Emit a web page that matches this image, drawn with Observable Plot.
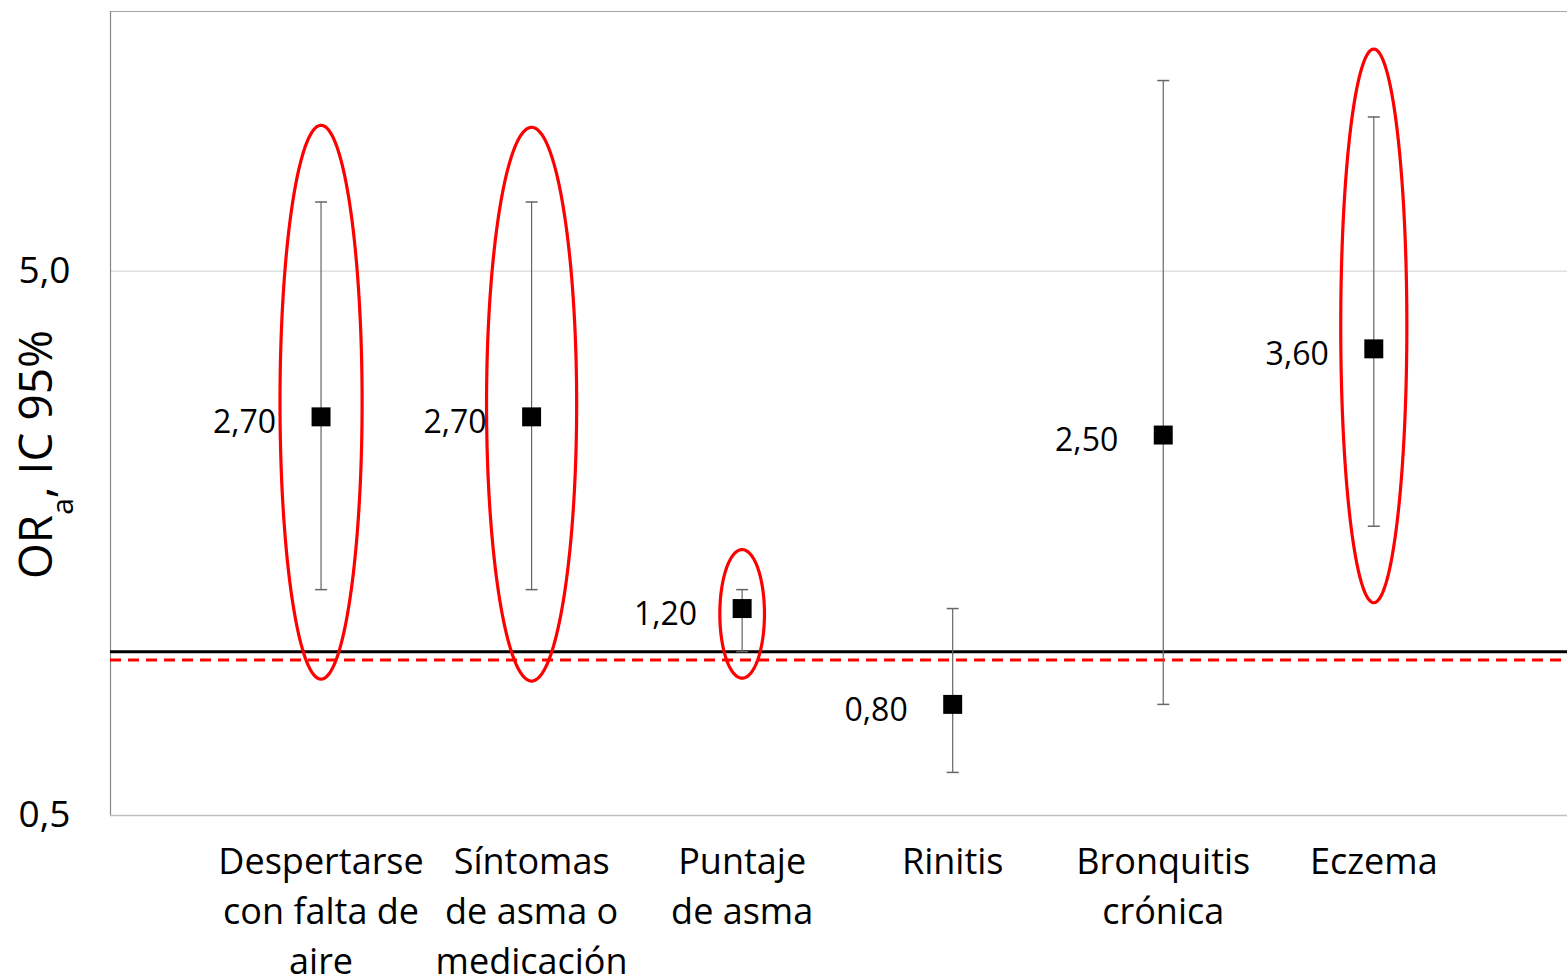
<!DOCTYPE html>
<html>
<head>
<meta charset="utf-8">
<script src="https://cdn.jsdelivr.net/npm/d3@7"></script>
<script src="https://cdn.jsdelivr.net/npm/@observablehq/plot@0.6"></script>
<style>
  html, body { margin: 0; padding: 0; background: #fff; overflow: hidden; }
  #chart svg { display: block; }
</style>
</head>
<body>
<div id="chart"></div>
<script>
// ---- data ----
const categories = [
  "Despertarse\ncon falta de\naire",
  "Síntomas\nde asma o\nmedicación",
  "Puntaje\nde asma",
  "Rinitis",
  "Bronquitis\ncrónica",
  "Eczema"
];
const orValues = [2.70, 2.70, 1.20, 0.80, 2.50, 3.60];
const ciLower  = [1.30, 1.30, 1.00, 0.60, 0.80, 1.70];
const ciUpper  = [6.70, 6.70, 1.30, 1.20, 11.2, 9.6];
const valueLabels = ["2,70", "2,70", "1,20", "0,80", "2,50", "3,60"];

const yTicks = [0.5, 5];
const yTickLabels = ["0,5", "5,0"];
const yDomain = [0.5, 15];
const xDomain = [0, 6.92];
const yTitleParts = ["OR", "a", ", IC 95%"];

const refLine = 1.0;
const refLineDashed = 0.965;

// highlighted (circled) categories and the value span of each ellipse
const highlightIndex = [0, 1, 2, 5];
const ellipseLow  = [0.89, 0.883, 0.894, 1.23];
const ellipseHigh = [9.27, 9.19, 1.54, 12.8];
const ellipseHalfWidth = [0.195, 0.214, 0.106, 0.157];

// ---- tables ----
const rows = categories.map((c, i) => ({
  pos: i + 1, label: c, or: orValues[i], lo: ciLower[i], hi: ciUpper[i], text: valueLabels[i]
}));

const ellipsePts = [];
highlightIndex.forEach((ci, j) => {
  const a = Math.log10(ellipseLow[j]), b = Math.log10(ellipseHigh[j]);
  const mid = (a + b) / 2, half = (b - a) / 2;
  const N = 160;
  for (let k = 0; k <= N; k++) {
    const t = 2 * Math.PI * k / N;
    ellipsePts.push({ id: j, x: ci + 1 + ellipseHalfWidth[j] * Math.cos(t), y: Math.pow(10, mid + half * Math.sin(t)) });
  }
});

const capSymbol = {
  draw(context) { context.moveTo(-6, 0); context.lineTo(6, 0); }
};

const yTitle = yTitleParts.join("");

const chart = Plot.plot({
  width: 1567,
  height: 980,
  marginLeft: 110,
  marginRight: 0,
  marginTop: 11,
  marginBottom: 165,
  style: { fontFamily: "'Open Sans', sans-serif", fontSize: "37px", color: "#000", background: "#fff" },
  x: { domain: xDomain, axis: null },
  y: { type: "log", domain: yDomain, axis: null },
  marks: [
    Plot.ruleY([5], { stroke: "#d9d9d9", strokeWidth: 1.2 }),
    Plot.ruleY([yDomain[1]], { stroke: "#a6a6a6", strokeWidth: 1.2 }),
    Plot.ruleY([yDomain[0]], { stroke: "#bfbfbf", strokeWidth: 1.5 }),
    Plot.ruleX([xDomain[0]], { stroke: "#868686", strokeWidth: 1.2 }),
    Plot.axisY(yTicks, {
      tickSize: 0, tickPadding: 40, fontSize: 37, label: null,
      tickFormat: d => yTickLabels[yTicks.indexOf(d)]
    }),
    Plot.ruleY([refLine], { stroke: "#000", strokeWidth: 3 }),
    Plot.ruleY([refLineDashed], { stroke: "#ff0000", strokeWidth: 3, strokeDasharray: "11,7" }),
    Plot.ruleX(rows, { x: "pos", y1: "lo", y2: "hi", stroke: "#666", strokeWidth: 1.2 }),
    Plot.dot(rows, { x: "pos", y: "hi", symbol: capSymbol, r: 6, stroke: "#666", strokeWidth: 1.5, fill: "none" }),
    Plot.dot(rows, { x: "pos", y: "lo", symbol: capSymbol, r: 6, stroke: "#666", strokeWidth: 1.5, fill: "none" }),
    Plot.dot(rows, { x: "pos", y: "or", symbol: "square", r: 10.7, fill: "#000", stroke: "none" }),
    Plot.line(ellipsePts, { x: "x", y: "y", z: "id", stroke: "#ff0000", strokeWidth: 3.2, curve: "linear" }),
    Plot.text(rows, { x: "pos", y: "or", text: "text", textAnchor: "end", dx: -45, dy: 6, fontSize: 32 }),
    Plot.text(rows, { x: "pos", text: "label", frameAnchor: "bottom", lineAnchor: "top", dy: 23, fontSize: 36, lineHeight: 1.39 }),
    Plot.text([yTitle], { text: d => d, frameAnchor: "left", textAnchor: "middle", rotate: -90, dx: -73, dy: 41, fontSize: 46 })
  ]
});

// subscript for the y title
chart.querySelectorAll("text").forEach(t => {
  if (t.textContent === yTitle) {
    while (t.firstChild) t.removeChild(t.firstChild);
    const ns = "http://www.w3.org/2000/svg";
    const s1 = document.createElementNS(ns, "tspan"); s1.textContent = yTitleParts[0];
    const s2 = document.createElementNS(ns, "tspan"); s2.textContent = yTitleParts[1];
    s2.setAttribute("baseline-shift", "sub"); s2.setAttribute("font-size", "65%");
    const s3 = document.createElementNS(ns, "tspan"); s3.textContent = yTitleParts[2];
    t.appendChild(s1); t.appendChild(s2); t.appendChild(s3);
  }
});

document.getElementById("chart").appendChild(chart);
</script>
</body>
</html>
